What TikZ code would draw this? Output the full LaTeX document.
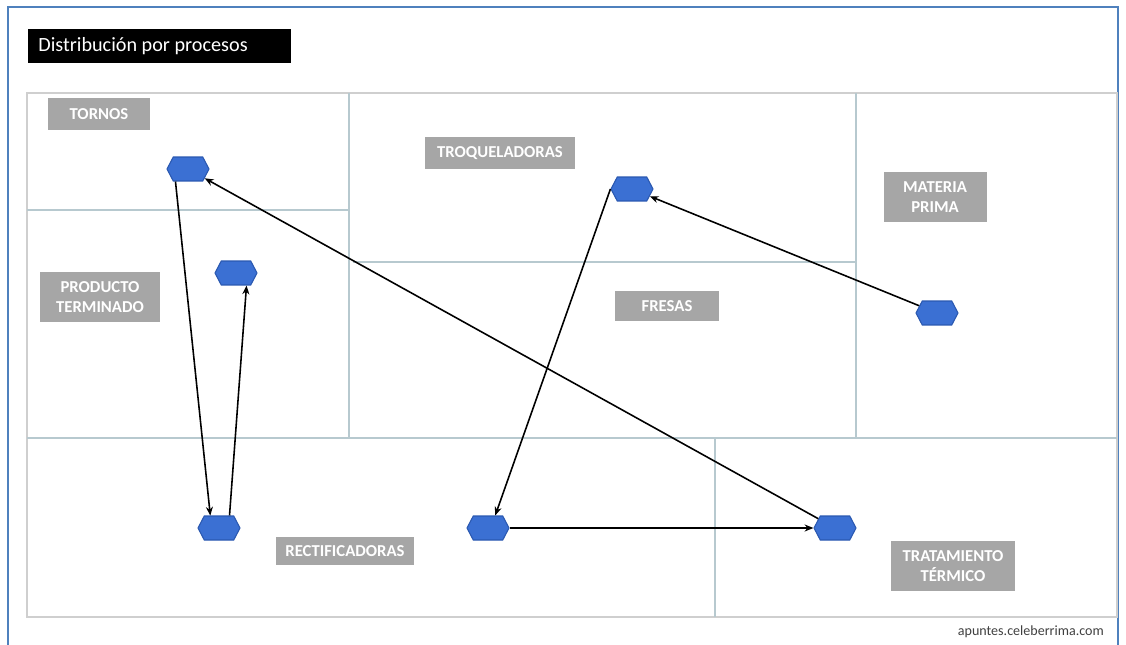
\documentclass[tikz,border=0pt]{standalone}
\usepackage{fontspec}
\setmainfont{Carlito}
\usetikzlibrary{
    shapes.symbols,
    arrows.meta
}
\definecolor{marco}{HTML}{4F81BD}
\definecolor{linea}{HTML}{B7C9CF}
\definecolor{borde}{HTML}{CFCFCF}
\definecolor{gris}{HTML}{A6A6A6}
\definecolor{azul}{HTML}{3B70D3}
\definecolor{azulosc}{HTML}{2A58B0}
\tikzset{
  zona/.style={
    draw=linea,
    line width=0.9pt
  },
  etiqueta/.style={
    fill=gris,
    text=white,
    font=\bfseries\fontsize{9.5}{11.5}\selectfont,
    align=center,
    inner sep=0pt
  },
  hexa/.style={
    signal,
    signal to=east and west,
    signal pointer angle=125,
    fill=azul,
    draw=azulosc,
    line width=0.6pt,
    minimum width=0.84cm,
    minimum height=0.48cm,
    inner sep=0pt
  },
  flecha/.style={
    black,
    line width=0.9pt,
    -{Stealth[length=5pt,width=4pt]}
  }
}

\begin{document}
\begin{tikzpicture}[x=0.02cm, y=-0.02cm]
    \useasboundingbox (0,0) rectangle (1126,645);

    % marco
    \draw[marco, line width=1.3pt] (8,645) -- (8,7) -- (1118,7) -- (1118,645);
    \node[fill=black, text=white, font=\fontsize{11.5}{13.5}\selectfont,
          anchor=west, minimum height=0.68cm, inner xsep=0.2cm,
          text width=4.86cm, align=flush left] (titulo) at (28,46) {Distribución por procesos};

    % zonas
    \draw[draw=borde, line width=1pt] (27,93) rectangle (1117,617);
    \draw[zona] (349,93) -- (349,438);
    \draw[zona] (27,210) -- (349,210);
    \draw[zona] (353,262) -- (856,262);
    \draw[zona] (856,93) -- (856,438);
    \draw[zona] (27,438) -- (1117,438);
    \draw[zona] (715,438) -- (715,617);

    % etiquetas
    \node[etiqueta, minimum width=2.04cm, minimum height=0.64cm] (tornos) at (99,114) {TORNOS};
    \node[etiqueta, minimum width=3.0cm, minimum height=0.66cm] (troq) at (500,153) {TROQUELADORAS};
    \node[etiqueta, minimum width=2.06cm, minimum height=1.02cm] (materia) at (935,197) {MATERIA\\PRIMA};
    \node[etiqueta, minimum width=2.4cm, minimum height=1.02cm] (producto) at (100,297) {PRODUCTO\\TERMINADO};
    \node[etiqueta, minimum width=2.1cm, minimum height=0.6cm] (fresas) at (667,306) {FRESAS};
    \node[etiqueta, minimum width=2.78cm, minimum height=0.58cm] (rectif) at (345,551) {RECTIFICADORAS};
    \node[etiqueta, minimum width=2.5cm, minimum height=1.02cm] (tratam) at (953,566) {TRATAMIENTO\\TÉRMICO};

    % maquinas
    \node[hexa] (h1) at (188,169) {};
    \node[hexa] (h2) at (236,273) {};
    \node[hexa] (h3) at (632,189) {};
    \node[hexa] (h4) at (937,313) {};
    \node[hexa] (h5) at (219,528) {};
    \node[hexa] (h6) at (488,528) {};
    \node[hexa] (h7) at (835,528) {};

    % recorrido
    \draw[flecha] (h4) -- (h3);
    \draw[flecha] (h3.west) -- (h6.60);
    \draw[flecha] (h6) -- (h7);
    \draw[flecha] (h7) -- (h1);
    \draw[flecha] (h1.225) -- (h5.125);
    \draw[flecha] (h5.50) -- (h2.310);

    \node[anchor=east, text=black!75, font=\fontsize{8}{10}\selectfont] (web) at (1110,632) {apuntes.celeberrima.com};
\end{tikzpicture}
\end{document}
